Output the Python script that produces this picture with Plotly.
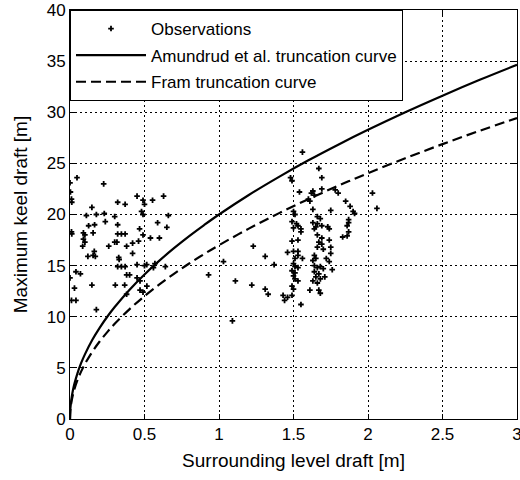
import plotly.graph_objects as go

# ---- data ----
obs_x = [0.047, 0.0, 0.003, 0.01, 0.012, 0.226, 0.32, 0.37, 0.45, 0.49, 0.5, 0.554, 0.628, 0.147, 0.11,
         0.177, 0.23, 0.3, 0.237, 0.48, 0.49, 0.66, 0.125, 0.165, 0.32, 0.467, 0.588, 0.65, 0.01, 0.012,
         0.09, 0.1, 0.155, 0.32, 0.345, 0.37, 0.49, 0.54, 0.6, 0.46, 0.42, 0.38, 0.3, 0.315, 0.26,
         0.09, 0.1, 0.085, 0.163, 0.42, 0.12, 0.155, 0.17, 0.327, 0.33, 0.32, 0.345, 0.37, 0.45, 0.5,
         0.515, 0.57, 0.56, 0.64, 0.04, 0.07, 0.0, 0.38, 0.40, 0.45, 0.47, 0.147, 0.304, 0.367, 0.516,
         0.47, 0.49, 0.03, 0.38, 0.01, 0.04, 0.177,
         1.09, 0.93, 1.11, 1.22, 1.03, 1.23,
         1.56, 1.48, 1.49, 1.67, 1.69, 1.54, 1.62, 1.63, 1.64, 1.60, 1.61, 1.69, 1.78, 1.80, 1.85,
         2.03, 2.06, 1.88, 1.90, 1.91, 1.50, 1.51, 1.49, 1.52, 1.53, 1.63, 1.66, 1.68, 1.63, 1.66,
         1.69, 1.75, 1.87, 1.87, 1.50, 1.55, 1.55, 1.64, 1.65, 1.73, 1.74, 1.86, 1.87, 1.83, 1.86,
         1.49, 1.53, 1.66, 1.69, 1.67, 1.69, 1.66, 1.70, 1.74, 1.50, 1.53, 1.53, 1.56, 1.51, 1.64,
         1.65, 1.63, 1.72, 1.74, 1.46, 1.50, 1.51, 1.53, 1.64, 1.66, 1.68, 1.70, 1.49, 1.51, 1.50,
         1.64, 1.67, 1.65, 1.71, 1.51, 1.53, 1.63, 1.66, 1.68, 1.49, 1.50, 1.67, 1.68, 1.61, 1.43,
         1.44, 1.46, 1.49, 1.55, 1.37, 1.31, 1.31, 1.33, 1.75, 1.75, 1.76]
obs_y = [23.6, 23.1, 22.2, 21.5, 21.2, 23.0, 21.2, 21.0, 21.8, 21.4, 21.0, 21.4, 21.8, 20.7, 19.9,
         20.0, 20.1, 19.8, 19.3, 20.3, 20.0, 19.9, 18.9, 19.0, 19.0, 18.6, 19.2, 18.75, 18.3, 18.1,
         18.2, 18.0, 18.2, 18.1, 18.1, 18.1, 18.0, 17.7, 17.7, 17.4, 17.2, 16.9, 17.3, 17.3, 16.9,
         17.6, 17.3, 16.9, 16.4, 16.2, 15.9, 16.0, 15.9, 15.8, 15.6, 14.9, 14.9, 14.9, 15.1, 15.0,
         15.1, 15.2, 14.8, 14.9, 14.4, 14.2, 13.8, 14.1, 14.1, 13.8, 13.5, 13.1, 13.1, 13.1, 13.0,
         12.6, 12.4, 12.8, 12.2, 11.6, 11.6, 10.7,
         9.6, 14.1, 13.5, 13.1, 15.4, 16.9,
         26.1, 23.6, 23.3, 24.5, 23.6, 22.2, 22.1, 22.3, 21.9, 21.5, 21.3, 22.5, 22.4, 22.1, 21.3,
         22.1, 20.6, 20.8, 20.3, 20.1, 20.3, 20.0, 19.3, 19.1, 18.9, 20.5, 19.8, 19.6, 19.2, 19.1,
         18.9, 20.4, 19.5, 19.2, 18.7, 18.6, 18.3, 18.6, 18.8, 18.8, 18.6, 18.9, 18.3, 17.8, 17.9,
         17.4, 17.5, 18.0, 17.7, 17.3, 17.1, 16.8, 16.6, 17.5, 16.4, 16.4, 16.0, 15.7, 15.7, 16.0,
         15.7, 15.5, 15.7, 15.4, 16.3, 15.2, 14.9, 14.8, 15.0, 14.8, 14.9, 14.7, 14.5, 14.3, 14.0,
         14.4, 14.2, 13.9, 13.9, 13.7, 13.5, 13.5, 13.3, 13.7, 13.0, 12.7, 12.6, 12.3, 12.6, 12.1,
         11.6, 11.9, 12.1, 11.2, 15.1, 15.9, 12.7, 12.2, 16.8, 16.2, 14.6]

curve_x = [0, 0.002, 0.005, 0.01, 0.02, 0.03, 0.05, 0.075, 0.1, 0.15, 0.2, 0.25, 0.3, 0.4, 0.5,
           0.6, 0.7, 0.8, 0.9, 1.0, 1.2, 1.4, 1.6, 1.8, 2.0, 2.25, 2.5, 2.75, 3.0]
amundrud_y = [0, 0.89, 1.41, 2.0, 2.83, 3.46, 4.47, 5.48, 6.32, 7.75, 8.94, 10.0, 10.95, 12.65, 14.14,
              15.49, 16.73, 17.89, 18.97, 20.0, 21.91, 23.66, 25.30, 26.83, 28.28, 30.0, 31.62, 33.17, 34.64]
fram_y = [0, 0.76, 1.20, 1.70, 2.40, 2.94, 3.80, 4.66, 5.38, 6.58, 7.60, 8.5, 9.31, 10.75, 12.02,
          13.17, 14.22, 15.21, 16.13, 17.0, 18.62, 20.11, 21.50, 22.81, 24.04, 25.5, 26.88, 28.19, 29.44]

x_ticks = [0, 0.5, 1, 1.5, 2, 2.5, 3]
x_ticklabels = ["0", "0.5", "1", "1.5", "2", "2.5", "3"]
y_ticks = [0, 5, 10, 15, 20, 25, 30, 35, 40]
y_ticklabels = ["0", "5", "10", "15", "20", "25", "30", "35", "40"]

series_names = ["Observations", "Amundrud et al. truncation curve", "Fram truncation curve"]
x_title = "Surrounding level draft [m]"
y_title = "Maximum keel draft [m]"

FONT = "Liberation Sans, Arial, sans-serif"

fig = go.Figure()
fig.add_trace(go.Scatter(x=obs_x, y=obs_y, mode="markers", name=series_names[0], legendgroup="a",
                         marker=dict(symbol="cross-thin", size=4, color="black",
                                     line=dict(color="black", width=1.8))))
fig.add_trace(go.Scatter(x=curve_x, y=amundrud_y, mode="lines", name=series_names[1], legendgroup="b",
                         line=dict(color="black", width=2.2, shape="spline")))
fig.add_trace(go.Scatter(x=curve_x, y=fram_y, mode="lines", name=series_names[2], legendgroup="c",
                         line=dict(color="black", width=2.2, dash="10px,5px", shape="spline")))

axis_common = dict(
    showline=True, linecolor="black", linewidth=1, mirror="ticks",
    ticks="inside", ticklen=5, tickcolor="black", tickwidth=1,
    showgrid=True, gridcolor="black", gridwidth=1, griddash="2px,3px",
    zeroline=False, tickfont=dict(family=FONT, size=17, color="black"),
    ticklabeloverflow="allow", automargin=False,
)

fig.update_layout(
    width=520, height=480,
    margin=dict(l=70, r=3, t=10, b=61),
    paper_bgcolor="white", plot_bgcolor="white",
    font=dict(family=FONT, color="black"),
    xaxis=dict(range=[0, 3], tickvals=x_ticks, ticktext=x_ticklabels,
               title=dict(text=x_title, font=dict(family=FONT, size=19), standoff=10),
               **axis_common),
    yaxis=dict(range=[0, 40], tickvals=y_ticks, ticktext=y_ticklabels,
               title=dict(text=y_title, font=dict(family=FONT, size=19), standoff=14),
               **axis_common),
    legend=dict(x=0, y=1, xanchor="left", yanchor="top",
                bgcolor="white", bordercolor="black", borderwidth=1,
                font=dict(family=FONT, size=17, color="black"),
                itemwidth=70, traceorder="grouped", tracegroupgap=1.5),
    showlegend=True,
)

fig.write_html("out.html")
